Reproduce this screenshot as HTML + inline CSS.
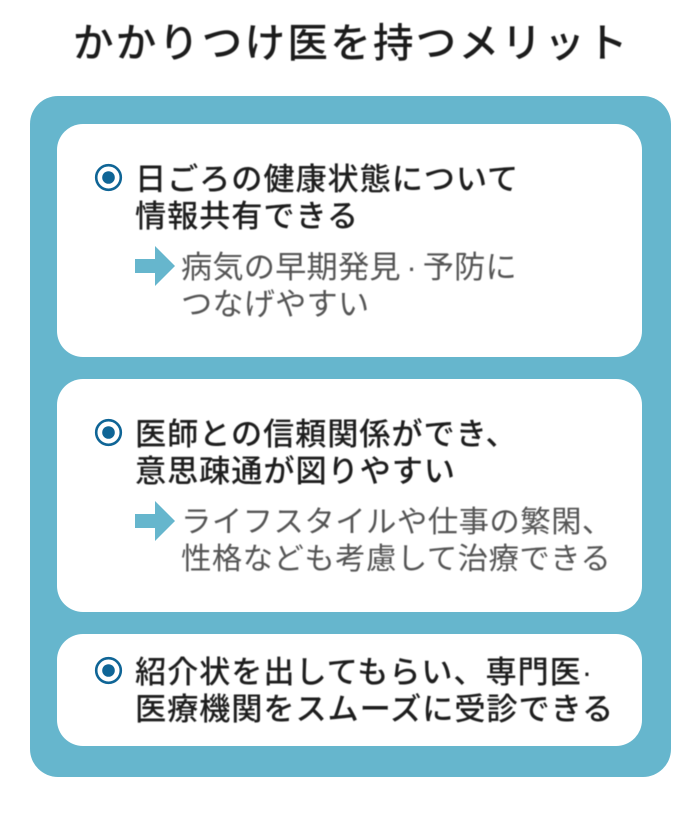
<!DOCTYPE html>
<html lang="ja">
<head>
<meta charset="utf-8">
<style>
html,body{margin:0;padding:0;background:#fff}
#p{position:relative;width:696px;height:813px;overflow:hidden;background:#fff;font-family:"Liberation Sans","Noto Sans CJK JP",sans-serif}
.t{position:absolute;white-space:nowrap;line-height:1;transform-origin:0 0;filter:blur(.4px)}
.box{position:absolute;background:#fff;border-radius:26px;left:57px;width:585px}
.h{font-size:31.2px;letter-spacing:.9px;color:#1e1e1e;font-weight:500}
.s{font-size:31.2px;letter-spacing:.2px;color:#555;font-weight:400}
.d{display:inline-block;width:22px;text-align:center}
svg{position:absolute}
</style>
</head>
<body>
<div id="p">
<div class="t" style="left:73px;top:23px;font-size:40.500px;letter-spacing:2.300px;color:#1c1c1c;font-weight:500">かかりつけ医を持つメリット</div>
<div style="position:absolute;left:30px;top:96px;width:641px;height:681px;background:#66b6cd;border-radius:28px"></div>
<div class="box" style="top:124px;height:233px"></div>
<div class="box" style="top:379px;height:233px"></div>
<div class="box" style="top:634px;height:112px"></div>

<svg style="left:0;top:0" width="696" height="813">
<g fill="#fff" stroke="#0f6596" stroke-width="2.6">
<circle cx="108.500" cy="177.500" r="12.300"/>
<circle cx="108.500" cy="432.500" r="12.300"/>
<circle cx="108.500" cy="670.500" r="12.300"/>
</g>
<g fill="#0f6596">
<circle cx="108.500" cy="177.500" r="6.300"/>
<circle cx="108.500" cy="432.500" r="6.300"/>
<circle cx="108.500" cy="670.500" r="6.300"/>
</g>
<g fill="#66b6cd">
<polygon points="135,259 155,259 155,246 175,266 155,286 155,273 135,273"/>
<polygon points="135,514 155,514 155,501 175,521 155,541 155,528 135,528"/>
</g>
</svg>

<div class="t h" style="left:135px;top:164px">日ごろの健康状態について</div>
<div class="t h" style="left:135px;top:201px">情報共有できる</div>
<div class="t s" style="left:181px;top:252px">病気の早期発見<span class="d">·</span>予防に</div>
<div class="t s" style="left:181px;top:289px">つなげやすい</div>

<div class="t h" style="left:135px;top:419px">医師との信頼関係ができ、</div>
<div class="t h" style="left:135px;top:456px">意思疎通が図りやすい</div>
<div class="t s" style="left:181px;top:507px;font-size:30.400px;letter-spacing:.45px">ライフスタイルや仕事の繁閑、</div>
<div class="t s" style="left:181px;top:544px;font-size:30.400px;letter-spacing:.45px">性格なども考慮して治療できる</div>

<div class="t h" style="left:135px;top:657px">紹介状を出してもらい、専門医·</div>
<div class="t h" style="left:135px;top:694px">医療機関をスムーズに受診できる</div>
</div>
</body>
</html>
